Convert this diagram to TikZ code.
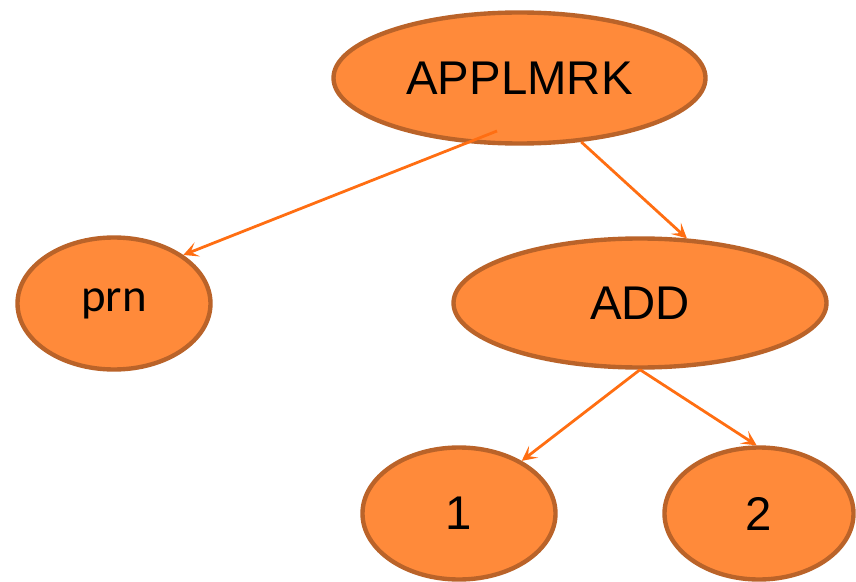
\documentclass[tikz,border=0pt]{standalone}
\usepackage{fontspec}
\setmainfont{Liberation Sans}
\newfontfamily\calfont{Carlito}
\usetikzlibrary{shapes.geometric,arrows.meta}
\definecolor{ofill}{HTML}{FF8A3A}
\definecolor{oline}{HTML}{BA6329}
\definecolor{oarrow}{HTML}{FF6E12}
\tikzset{
  oval/.style={ellipse, draw=oline, fill=ofill, line width=4.4pt, inner sep=0pt,
    font=\fontsize{47.5}{52}\selectfont, text=black},
  arr/.style={draw=oarrow, line width=2.8pt,
    -{Stealth[length=15pt,width=15pt,inset=7pt]}}
}
\begin{document}
\begin{tikzpicture}[x=1bp,y=-1bp]
\useasboundingbox (0,0) rectangle (856,582);
\node[oval, minimum width=372bp, minimum height=131bp] (appl) at (519.5,78) {APPLMRK};
\node[oval, minimum width=193bp, minimum height=132bp, font=\calfont\fontsize{47}{52}\selectfont] (prn) at (114,303.5) {prn};
\node[oval, minimum width=373bp, minimum height=129bp] (add) at (640,303) {ADD};
\node[oval, minimum width=193bp, minimum height=132bp] (one) at (459,513.5) {1};
\node[oval, minimum width=189bp, minimum height=132bp] (two) at (759,513.5) {2};
\coordinate (s1) at (497,131);
\draw[arr] (s1) -- (prn.35);
\draw[arr] (appl.-46) -- (add.54);
\draw[arr] (add.south) -- (one.40);
\draw[arr] (add.south) -- (two.92);
\end{tikzpicture}
\end{document}
